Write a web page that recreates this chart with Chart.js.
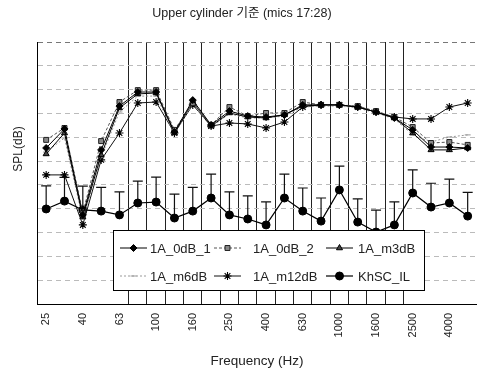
<!DOCTYPE html>
<html><head><meta charset="utf-8">
<script src="https://cdn.jsdelivr.net/npm/chart.js@4.4.1/dist/chart.umd.min.js"></script>
<style>
html,body{margin:0;padding:0;background:#fff;overflow:hidden;width:481px;height:370px}
#wrap{position:relative;width:490px;height:370px}
</style>
</head><body><div id="wrap"><canvas id="c" width="490" height="370"></canvas></div>
<script>
const categories = ['25','31.5','40','50','63','80','100','125','160','200','250','315','400','500','630','800','1000','1250','1600','2000','2500','3150','4000','5000'];
const tickLabels = ['25','40','63','100','160','250','400','630','1000','1600','2500','4000'];
const a0dB_1  = [65.5,73.5,37.4,64.7,83.1,89.0,89.0,72.2,85.6,75.2,81.0,78.9,78.5,79.4,83.6,83.6,83.6,82.7,80.6,78.1,73.1,65.9,65.9,65.5];
const a0dB_2  = [68.9,73.9,38.2,68.4,84.8,89.8,89.8,73.1,84.4,75.2,82.7,78.9,80.2,80.2,84.8,83.6,83.6,83.1,81.0,78.5,74.3,67.6,68.0,66.8];
const am3dB   = [63.0,71.8,36.5,62.6,82.3,88.2,88.6,71.8,84.8,74.7,80.2,78.5,78.1,79.4,83.1,83.6,83.6,82.7,80.6,78.1,71.8,64.7,64.7,65.5];
const am6dB   = [63.8,69.7,35.7,61.7,80.6,87.3,87.3,71.4,84.0,74.3,79.8,78.1,78.1,78.9,82.7,83.1,83.1,82.3,80.2,77.7,71.0,68.0,70.1,71.0];
const am12dB  = [54.2,54.2,33.2,60.5,71.8,84.4,84.8,71.8,83.6,74.7,76.0,75.6,73.9,76.4,82.7,83.6,83.6,82.7,80.6,78.5,77.7,77.7,82.7,84.4];
const khscIL  = [39.9,43.2,39.5,39.0,37.4,42.4,42.8,36.1,39.0,44.5,37.4,35.7,33.2,44.5,39.0,34.8,47.9,34.4,30.2,33.2,46.6,40.7,42.4,36.9];
const khscErr = [9.7,10.0,10.0,10.0,9.7,9.2,10.5,10.0,10.0,10.0,9.7,9.7,9.7,10.0,9.7,9.7,10.0,9.7,9.2,9.7,9.7,10.0,10.0,10.0];
const seriesNames = ['1A_0dB_1','1A_0dB_2','1A_m3dB','1A_m6dB','1A_m12dB','KhSC_IL'];

const FONT = "'Liberation Sans','Noto Sans CJK KR',sans-serif";

const errorBars = {
  id:'errorBars',
  beforeDatasetsDraw(chart){
    const meta = chart.getDatasetMeta(5);
    const ys = chart.scales.y;
    const ctx = chart.ctx;
    ctx.save();
    ctx.strokeStyle = '#111';
    ctx.lineWidth = 1.2;
    meta.data.forEach((pt,i)=>{
      const yt = ys.getPixelForValue(khscIL[i] + khscErr[i]);
      ctx.beginPath();
      ctx.moveTo(pt.x, pt.y); ctx.lineTo(pt.x, yt);
      ctx.moveTo(pt.x-5, yt); ctx.lineTo(pt.x+5, yt);
      ctx.stroke();
    });
    ctx.restore();
  }
};

const boxLegend = {
  id:'boxLegend',
  afterDraw(chart){
    const ctx = chart.ctx;
    ctx.save();
    ctx.fillStyle = '#fff';
    ctx.fillRect(113.5, 230.5, 311, 60);
    ctx.strokeStyle = '#000';
    ctx.lineWidth = 1;
    ctx.strokeRect(113.5, 230.5, 311, 60);
    const cols = [[120,150],[214,253],[326,358]];
    const rows = [248, 276];
    chart.data.datasets.forEach((ds,i)=>{
      const [lx, tx] = cols[i%3];
      const y = rows[Math.floor(i/3)];
      ctx.save();
      ctx.strokeStyle = ds.borderColor;
      ctx.lineWidth = ds.borderWidth;
      ctx.setLineDash(ds.borderDash || []);
      ctx.beginPath(); ctx.moveTo(lx, y); ctx.lineTo(lx+27, y); ctx.stroke();
      ctx.setLineDash([]);
      ctx.fillStyle = ds.pointBackgroundColor;
      ctx.strokeStyle = ds.pointBorderColor;
      ctx.lineWidth = ds.pointBorderWidth || 1;
      Chart.helpers.drawPoint(ctx, {pointStyle: ds.pointStyle, radius: ds.pointRadius, rotation: 0, borderWidth: ds.pointBorderWidth || 1}, lx+13.5, y);
      ctx.restore();
      ctx.fillStyle = '#222';
      ctx.font = "13px " + FONT;
      ctx.textBaseline = 'middle';
      ctx.textAlign = 'left';
      ctx.fillText(ds.label, tx, y+1);
    });
    // y axis title
    ctx.translate(19, 149);
    ctx.rotate(-Math.PI/2);
    ctx.fillStyle = '#222';
    ctx.font = "12px " + FONT;
    ctx.textAlign = 'center';
    ctx.textBaseline = 'middle';
    ctx.fillText('SPL(dB)', 0, 0);
    ctx.restore();
  }
};

new Chart(document.getElementById('c'), {
  type:'line',
  data:{
    labels: categories,
    datasets:[
      {label:seriesNames[0], data:a0dB_1, borderColor:'#000', borderWidth:1, pointStyle:'rectRot', pointRadius:3.5, pointBackgroundColor:'#000', pointBorderColor:'#000', pointBorderWidth:1},
      {label:seriesNames[1], data:a0dB_2, borderColor:'#555', borderWidth:1, borderDash:[3,2], pointStyle:'rect', pointRadius:3.5, pointBackgroundColor:'#888', pointBorderColor:'#222', pointBorderWidth:1},
      {label:seriesNames[2], data:am3dB, borderColor:'#000', borderWidth:1, pointStyle:'triangle', pointRadius:3.5, pointBackgroundColor:'#444', pointBorderColor:'#000', pointBorderWidth:1},
      {label:seriesNames[3], data:am6dB, borderColor:'#999', borderWidth:1, borderDash:[2,2], pointStyle:'line', pointRadius:3, pointBackgroundColor:'#999', pointBorderColor:'#999', pointBorderWidth:1},
      {label:seriesNames[4], data:am12dB, borderColor:'#111', borderWidth:1, pointStyle:'star', pointRadius:4, pointBackgroundColor:'#000', pointBorderColor:'#000', pointBorderWidth:1.1},
      {label:seriesNames[5], data:khscIL, borderColor:'#000', borderWidth:1.2, pointStyle:'circle', pointRadius:4, pointBackgroundColor:'#000', pointBorderColor:'#000', pointBorderWidth:1}
    ]
  },
  options:{
    responsive:false,
    animation:false,
    events:[],
    layout:{padding:{left:0,right:6,top:0,bottom:0}},
    plugins:{
      legend:{display:false},
      tooltip:{enabled:false},
      title:{display:true, text:'Upper cylinder 기준 (mics 17:28)', color:'#222', font:{family:FONT, size:12.5, weight:'normal'}, padding:{top:6,bottom:21}}
    },
    scales:{
      x:{
        offset:true,
        grid:{offset:true, drawTicks:false, lineWidth:1, color:(c)=> (c.index>=5 && c.index<=20) ? '#222' : 'rgba(0,0,0,0)'},
        border:{display:true, color:'#000', width:1},
        ticks:{autoSkip:false, maxRotation:90, minRotation:90, padding:9, color:'#222', font:{family:FONT, size:11},
          callback:(v,i)=> tickLabels.includes(categories[i]) ? categories[i] : ''},
        title:{display:true, text:'Frequency (Hz)', color:'#222', font:{family:FONT, size:13.5}, padding:{top:0,bottom:1}},
        afterFit:(s)=>{ s.height = 66; }
      },
      y:{
        min:0, max:110,
        ticks:{display:false, stepSize:10},
        grid:{drawTicks:false, lineWidth:1, color:(c)=> (c.tick && c.tick.value===110) ? '#777' : '#bbb'},
        border:{display:true, color:'#000', width:1, dash:[5,4]},
        afterFit:(s)=>{ s.width = 37; }
      }
    }
  },
  plugins:[errorBars, boxLegend]
});
</script>
</body></html>
